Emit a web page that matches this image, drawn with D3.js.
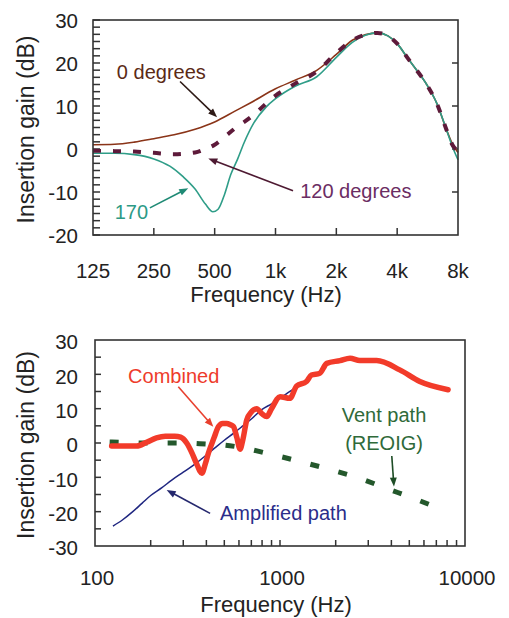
<!DOCTYPE html>
<html lang="en">
<head>
<meta charset="utf-8">
<title>Insertion gain</title>
<script src="https://cdn.jsdelivr.net/npm/d3@7"></script>
<style>
  body { margin: 0; background: #fff; }
  svg text { font-family: "Liberation Sans", Arial, Helvetica, sans-serif; fill: #222; }
  .frame { fill: none; stroke: #333; stroke-width: 1.6; }
  .tick-mark { stroke: #333; stroke-width: 1.5; }
  .tick-label { font-size: 20.5px; }
  .axis-title { font-size: 22px; text-anchor: middle; }
  .note { font-size: 20px; }
</style>
</head>
<body>
<svg id="chart" width="509" height="618"></svg>
<script>
// ---- top panel: insertion gain by direction ----
var topTickFreqs = [125, 250, 500, 1000, 2000, 4000, 8000];
var topTickLabels = ["125", "250", "500", "1k", "2k", "4k", "8k"];
var topGainTicks = [-20, -10, 0, 10, 20, 30];

var deg0Freq = [125, 160, 200, 250, 315, 400, 500, 630, 750, 1000, 1250, 1600, 2000, 2400, 2800, 3200, 3600, 4000, 4500, 5000, 5600, 6300, 7000, 7500, 8000];
var deg0Gain = [1.0, 1.1, 1.6, 2.4, 3.3, 4.6, 6.3, 8.8, 10.7, 14.0, 16.0, 18.3, 22.0, 25.3, 26.6, 27.0, 26.3, 24.5, 21.2, 18.3, 15.0, 10.5, 4.6, 1.2, -0.8];

var deg120Freq = [125, 160, 200, 250, 315, 400, 450, 500, 560, 630, 750, 1000, 1250, 1600, 2000, 2400, 2800, 3200, 3600, 4000, 4500, 5000, 5600, 6300, 7000, 7500, 8000];
var deg120Gain = [-0.4, -0.5, -0.6, -0.9, -1.2, -0.8, 0.0, 1.0, 2.8, 4.8, 7.3, 12.4, 15.2, 18.0, 22.3, 25.3, 26.6, 27.0, 26.3, 24.5, 21.2, 18.3, 15.0, 10.5, 4.6, 1.0, -0.5];

var deg170Freq = [125, 160, 200, 250, 300, 350, 400, 450, 490, 520, 560, 600, 650, 700, 780, 900, 1000, 1250, 1600, 2000, 2400, 2800, 3200, 3600, 4000, 4500, 5000, 5600, 6300, 7000, 7500, 8000];
var deg170Gain = [-1.0, -1.0, -1.3, -2.3, -4.0, -6.5, -9.3, -12.8, -14.6, -14.0, -10.5, -6.0, -2.3, 1.5, 6.0, 9.8, 11.7, 14.6, 16.8, 21.3, 24.8, 26.5, 27.0, 26.3, 24.5, 21.2, 18.3, 15.0, 10.5, 4.6, 0.6, -2.5];

// ---- bottom panel: vent + amplified path ----
var botTickFreqs = [100, 1000, 10000];
var botGainTicks = [-30, -20, -10, 0, 10, 20, 30];

var combinedFreq = [123, 140, 168, 190, 215, 240, 270, 290, 313, 335, 354, 378, 395, 410, 440, 465, 490, 515, 540, 560, 585, 608, 630, 661, 700, 748, 800, 847, 900, 1000, 1130, 1230, 1390, 1480, 1640, 1790, 2110, 2390, 2700, 3330, 4440, 5700, 8100];
var combinedGain = [-0.9, -0.9, -0.9, 0.2, 1.5, 2.0, 2.0, 1.7, 0.0, -3.0, -6.0, -8.8, -6.0, -3.0, 1.5, 4.8, 5.7, 5.7, 5.3, 4.8, 1.5, -1.8, 1.0, 6.7, 9.0, 10.0, 8.5, 7.7, 10.0, 13.5, 13.0, 16.6, 17.9, 19.8, 20.3, 23.2, 24.0, 24.7, 24.0, 24.0, 21.3, 17.9, 15.5];

var amplifiedFreq = [125, 140, 160, 180, 200, 230, 260, 300, 350, 400, 450, 500, 560, 630, 700, 800, 900, 1000, 1100, 1250];
var amplifiedGain = [-24.2, -22.5, -20.0, -17.5, -15.3, -13.0, -10.8, -8.5, -6.0, -3.5, -1.2, 0.8, 2.8, 5.0, 7.0, 9.8, 11.4, 13.0, 14.6, 16.5];

var ventFreq = [120, 200, 300, 400, 500, 600, 850, 1200, 1800, 2600, 3800, 5500, 8000];
var ventGain = [0.3, 0.0, 0.0, -0.3, -0.6, -1.2, -3.0, -5.0, -7.5, -10.0, -13.3, -16.5, -20.0];

var svg = d3.select("#chart");

function arrow(g, x1, y1, x2, y2, color) {
  var ang = Math.atan2(y2 - y1, x2 - x1), len = 9, half = 3.5;
  g.append("line")
   .attr("x1", x1).attr("y1", y1)
   .attr("x2", x2 - Math.cos(ang) * (len - 1)).attr("y2", y2 - Math.sin(ang) * (len - 1))
   .attr("stroke", color).attr("stroke-width", 1.6);
  var bx = x2 - Math.cos(ang) * len, by = y2 - Math.sin(ang) * len;
  var pts = [[x2, y2],
             [bx + Math.sin(ang) * half, by - Math.cos(ang) * half],
             [bx - Math.sin(ang) * half, by + Math.cos(ang) * half]];
  g.append("polygon").attr("points", pts.map(function(p){ return p.join(","); }).join(" "))
   .attr("fill", color);
}

function zip(f, v) { return f.map(function(d, i){ return [d, v[i]]; }); }

// ================= TOP =================
var t = {left: 93, right: 458, top: 20, bottom: 235};
var xTop = d3.scaleLog().base(2).domain([125, 8000]).range([t.left, t.right]);
var yTop = d3.scaleLinear().domain([-20, 30]).range([t.bottom, t.top]);
var gTop = svg.append("g");

// minor ticks on left
gTop.selectAll(".ly").data(d3.range(0, 31).map(function(i){ return -20 + i * 50 / 30; }))
  .enter().append("line").attr("class", "tick-mark")
  .attr("x1", t.left).attr("x2", t.left + 7)
  .attr("y1", function(d){ return yTop(d); }).attr("y2", function(d){ return yTop(d); });
// major ticks on right
gTop.selectAll(".ry").data([-10, 0, 10, 20]).enter().append("line").attr("class", "tick-mark")
  .attr("x1", t.right).attr("x2", t.right - 6)
  .attr("y1", function(d){ return yTop(d); }).attr("y2", function(d){ return yTop(d); });
// bottom ticks
gTop.selectAll(".bx").data(topTickFreqs.slice(1, -1)).enter().append("line").attr("class", "tick-mark")
  .attr("x1", function(d){ return xTop(d); }).attr("x2", function(d){ return xTop(d); })
  .attr("y1", t.bottom).attr("y2", t.bottom - 7);

gTop.selectAll(".yl").data(topGainTicks).enter().append("text").attr("class", "tick-label")
  .attr("x", 78).attr("y", function(d){ return yTop(d) + 1; }).attr("dy", "0.35em")
  .attr("text-anchor", "end").text(function(d){ return d; });
gTop.selectAll(".xl").data(topTickFreqs).enter().append("text").attr("class", "tick-label")
  .attr("x", function(d){ return xTop(d); }).attr("y", 278)
  .attr("text-anchor", "middle").text(function(d, i){ return topTickLabels[i]; });

gTop.append("text").attr("class", "axis-title").attr("x", 266).attr("y", 302).text("Frequency (Hz)");
gTop.append("text").attr("class", "axis-title").style("font-size", "23px")
  .attr("transform", "translate(34," + ((t.top + t.bottom) / 2 + 2) + ") rotate(-90)")
  .text("Insertion gain (dB)");

var lineTop = d3.line().x(function(d){ return xTop(d[0]); }).y(function(d){ return yTop(d[1]); })
  .curve(d3.curveMonotoneX);

gTop.append("path").datum(zip(deg0Freq, deg0Gain)).attr("d", lineTop)
  .attr("fill", "none").attr("stroke", "#8a3418").attr("stroke-width", 1.6);
gTop.append("path").datum(zip(deg170Freq, deg170Gain)).attr("d", lineTop)
  .attr("fill", "none").attr("stroke", "#2f9d88").attr("stroke-width", 1.6);
gTop.append("path").datum(zip(deg120Freq, deg120Gain)).attr("d", lineTop)
  .attr("fill", "none").attr("stroke", "#5e1a3a").attr("stroke-width", 4)
  .attr("stroke-dasharray", "8,12");

gTop.append("rect").attr("class", "frame")
  .attr("x", t.left).attr("y", t.top).attr("width", t.right - t.left).attr("height", t.bottom - t.top);

// annotations
gTop.append("text").attr("class", "note").attr("x", xTop(164)).attr("y", yTop(16.3))
  .style("fill", "#5b2a16").text("0 degrees");
arrow(gTop, xTop(337), yTop(15.7), xTop(514), yTop(7.4), "#2e1a16");

gTop.append("text").attr("class", "note").attr("x", xTop(1325)).attr("y", yTop(-11.4))
  .style("fill", "#6b2d63").text("120 degrees");
arrow(gTop, xTop(1221), yTop(-9.7), xTop(465), yTop(-2.2), "#4e1a32");

gTop.append("text").attr("class", "note").attr("x", xTop(160)).attr("y", yTop(-16.3))
  .style("fill", "#2d9a86").text("170");
arrow(gTop, xTop(239), yTop(-13.7), xTop(370), yTop(-9.1), "#1f8a75");

// ================= BOTTOM =================
var b = {left: 95, right: 465, top: 340, bottom: 546};
var xBot = d3.scaleLog().domain([100, 10000]).range([b.left, b.right]);
var yBot = d3.scaleLinear().domain([-30, 30]).range([b.bottom, b.top]);
var gBot = svg.append("g");

gBot.selectAll(".ly").data(d3.range(-25, 26, 5)).enter().append("line").attr("class", "tick-mark")
  .attr("x1", b.left).attr("x2", b.left + 6)
  .attr("y1", function(d){ return yBot(d); }).attr("y2", function(d){ return yBot(d); });
var minorX = d3.range(2, 10).map(function(k){ return k * 100; }).concat([1000])
  .concat(d3.range(2, 10).map(function(k){ return k * 1000; }));
gBot.selectAll(".bx").data(minorX).enter().append("line").attr("class", "tick-mark")
  .attr("x1", function(d){ return xBot(d); }).attr("x2", function(d){ return xBot(d); })
  .attr("y1", b.bottom).attr("y2", b.bottom - 6);

gBot.selectAll(".yl").data(botGainTicks).enter().append("text").attr("class", "tick-label")
  .attr("x", 78).attr("y", function(d){ return yBot(d) + 2; }).attr("dy", "0.35em")
  .attr("text-anchor", "end").text(function(d){ return d; });
gBot.selectAll(".xl").data(botTickFreqs).enter().append("text").attr("class", "tick-label")
  .attr("x", function(d){ return xBot(d) + 2; }).attr("y", 585)
  .attr("text-anchor", "middle").text(function(d){ return d; });

gBot.append("text").attr("class", "axis-title").attr("x", 276).attr("y", 612).text("Frequency (Hz)");
gBot.append("text").attr("class", "axis-title").style("font-size", "23px")
  .attr("transform", "translate(34," + ((b.top + b.bottom) / 2 + 2) + ") rotate(-90)")
  .text("Insertion gain (dB)");

var lineBot = d3.line().x(function(d){ return xBot(d[0]); }).y(function(d){ return yBot(d[1]); })
  .curve(d3.curveMonotoneX);

gBot.append("path").datum(zip(ventFreq, ventGain)).attr("d", lineBot)
  .attr("fill", "none").attr("stroke", "#24582c").attr("stroke-width", 5)
  .attr("stroke-dasharray", "9,20");
gBot.append("path").datum(zip(amplifiedFreq, amplifiedGain)).attr("d", lineBot)
  .attr("fill", "none").attr("stroke", "#1f2680").attr("stroke-width", 1.5);
gBot.append("path").datum(zip(combinedFreq, combinedGain)).attr("d", lineBot)
  .attr("fill", "none").attr("stroke", "#f23b2a").attr("stroke-width", 5.5)
  .attr("stroke-linejoin", "round").attr("stroke-linecap", "round");

gBot.append("rect").attr("class", "frame")
  .attr("x", b.left).attr("y", b.top).attr("width", b.right - b.left).attr("height", b.bottom - b.top);

gBot.append("text").attr("class", "note").attr("x", xBot(151)).attr("y", yBot(17.6))
  .style("fill", "#ee3b2b").text("Combined");
arrow(gBot, xBot(282), yBot(16.4), xBot(436), yBot(4.7), "#e8402e");

gBot.append("text").attr("class", "note").attr("x", xBot(474)).attr("y", yBot(-22.4))
  .style("fill", "#2b2d8a").text("Amplified path");
arrow(gBot, xBot(419), yBot(-20.5), xBot(244), yBot(-13.7), "#25286e");

gBot.append("text").attr("class", "note").attr("x", xBot(3650)).attr("y", yBot(6.1))
  .attr("text-anchor", "middle").style("fill", "#2f6a3a").text("Vent path");
gBot.append("text").attr("class", "note").attr("x", xBot(3650)).attr("y", yBot(-2.0))
  .attr("text-anchor", "middle").style("fill", "#2f6a3a").text("(REOIG)");
arrow(gBot, xBot(4020), yBot(-3.8), xBot(4130), yBot(-12.7), "#1e4d26");
</script>
</body>
</html>
